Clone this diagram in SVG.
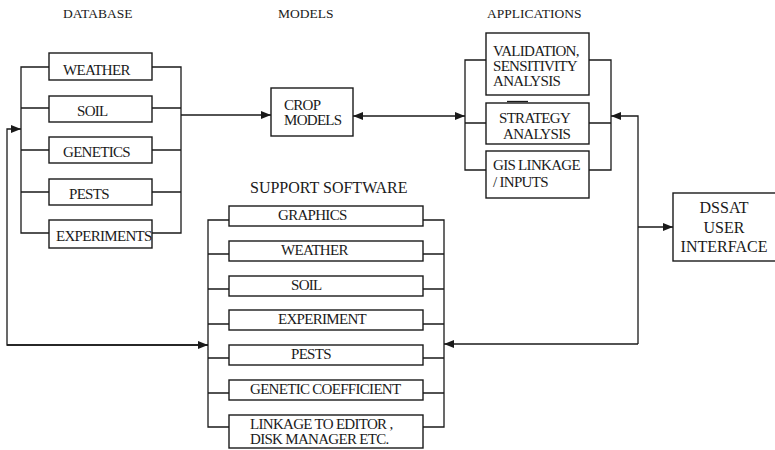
<svg xmlns="http://www.w3.org/2000/svg" width="775" height="450" viewBox="0 0 775 450">
  <style>
    text { font-family: "Liberation Serif", "Times New Roman", serif; fill: #1a1a1a; font-size: 15px; letter-spacing: -0.7px; }
    .head { font-size: 13.5px; letter-spacing: 0; }
    .big { font-size: 16px; letter-spacing: 0; }
    .mid { text-anchor: middle; }
    .box { fill: #fff; stroke: #1a1a1a; stroke-width: 1.4; }
    .wire { fill: none; stroke: #1a1a1a; stroke-width: 1.3; }
  </style>
  <defs>
    <marker id="arrow" viewBox="0 0 10 8" refX="10" refY="4" markerWidth="10" markerHeight="8" markerUnits="userSpaceOnUse" orient="auto-start-reverse">
      <path d="M0,0 L10,4 L0,8 z" fill="#1a1a1a"/>
    </marker>
  </defs>
  <rect width="775" height="450" fill="#fff"/>

  <!-- column headings -->
  <g id="headings">
    <text class="head" x="63" y="18">DATABASE</text>
    <text class="head" x="278" y="18">MODELS</text>
    <text class="head" x="487" y="18">APPLICATIONS</text>
    <text class="big" x="250" y="193">SUPPORT SOFTWARE</text>
  </g>

  <!-- connectors -->
  <g id="connectors">
    <!-- database buses -->
    <path class="wire" d="M49,67 H21 V233 H49 M21,108 H49 M21,150 H49 M21,192 H49"/>
    <path class="wire" d="M152,67 H181 V233 H152 M152,108 H181 M152,150 H181 M152,192 H181"/>
    <!-- database to crop models -->
    <line class="wire" x1="181" y1="115" x2="271" y2="115" marker-end="url(#arrow)"/>
    <!-- crop models to applications -->
    <line class="wire" x1="353" y1="116" x2="465" y2="116" marker-start="url(#arrow)" marker-end="url(#arrow)"/>
    <!-- application buses -->
    <path class="wire" d="M486,60 H465 V170 H486 M465,123 H486"/>
    <path class="wire" d="M589,60 H611 V170 H589 M589,123 H611"/>
    <!-- user interface links -->
    <path class="wire" d="M638,344 V116 H611" marker-end="url(#arrow)"/>
    <line class="wire" x1="638" y1="227" x2="673" y2="227" marker-end="url(#arrow)"/>
    <path class="wire" d="M638,344 H444" marker-end="url(#arrow)"/>
    <!-- return loop to database -->
    <path class="wire" d="M208,345 H7 V129 H21" marker-end="url(#arrow)"/>
    <line class="wire" x1="7" y1="345" x2="208" y2="345" marker-end="url(#arrow)"/>
    <!-- support software buses -->
    <path class="wire" d="M229,220 H208 V427 H229 M208,254 H229 M208,289 H229 M208,324 H229 M208,358 H229 M208,393 H229"/>
    <path class="wire" d="M423,220 H444 V427 H423 M423,254 H444 M423,289 H444 M423,324 H444 M423,358 H444 M423,393 H444"/>
  </g>

  <!-- database nodes -->
  <g id="db-weather"><rect class="box" x="49" y="53" width="103" height="27"/><text x="63" y="75">WEATHER</text></g>
  <g id="db-soil"><rect class="box" x="49" y="96" width="103" height="26"/><text x="77" y="116">SOIL</text></g>
  <g id="db-genetics"><rect class="box" x="49" y="137" width="103" height="26"/><text x="63" y="157">GENETICS</text></g>
  <g id="db-pests"><rect class="box" x="49" y="179" width="103" height="26"/><text x="69" y="199">PESTS</text></g>
  <g id="db-experiments"><rect class="box" x="49" y="220" width="103" height="28"/><text x="56" y="241">EXPERIMENTS</text></g>

  <!-- model node -->
  <g id="crop-models">
    <rect class="box" x="271" y="88" width="82" height="48"/>
    <text x="284" y="110">CROP</text>
    <text x="284" y="125">MODELS</text>
  </g>

  <!-- application nodes -->
  <g id="app-validation">
    <rect class="box" x="486" y="33" width="103" height="62"/>
    <text x="493" y="56">VALIDATION,</text>
    <text x="493" y="71">SENSITIVITY</text>
    <text x="493" y="86">ANALYSIS</text>
  </g>
  <g id="app-strategy">
    <rect class="box" x="486" y="103" width="103" height="41"/>
    <line class="wire" x1="507" y1="101.5" x2="528" y2="101.5"/>
    <text x="499" y="123">STRATEGY</text>
    <text x="503" y="139">ANALYSIS</text>
  </g>
  <g id="app-gis">
    <rect class="box" x="486" y="151" width="103" height="47"/>
    <text x="493" y="170">GIS LINKAGE</text>
    <text x="493" y="187">/ INPUTS</text>
  </g>

  <!-- user interface node -->
  <g id="dssat-ui">
    <rect class="box" x="673" y="193" width="104" height="68"/>
    <text class="big mid" x="724" y="213">DSSAT</text>
    <text class="big mid" x="724" y="233">USER</text>
    <text class="big mid" x="724" y="252">INTERFACE</text>
  </g>

  <!-- support software nodes -->
  <g id="sup-graphics"><rect class="box" x="229" y="206" width="194" height="20"/><text x="278" y="220">GRAPHICS</text></g>
  <g id="sup-weather"><rect class="box" x="229" y="241" width="194" height="20"/><text x="281" y="255">WEATHER</text></g>
  <g id="sup-soil"><rect class="box" x="229" y="276" width="194" height="20"/><text x="291" y="290">SOIL</text></g>
  <g id="sup-experiment"><rect class="box" x="229" y="310" width="194" height="20"/><text x="278" y="324">EXPERIMENT</text></g>
  <g id="sup-pests"><rect class="box" x="229" y="345" width="194" height="20"/><text x="291" y="359">PESTS</text></g>
  <g id="sup-genetic"><rect class="box" x="229" y="380" width="194" height="20"/><text x="250" y="394">GENETIC COEFFICIENT</text></g>
  <g id="sup-linkage">
    <rect class="box" x="229" y="415" width="194" height="33"/>
    <text x="250" y="429">LINKAGE TO EDITOR ,</text>
    <text x="250" y="444">DISK MANAGER ETC.</text>
  </g>
</svg>
